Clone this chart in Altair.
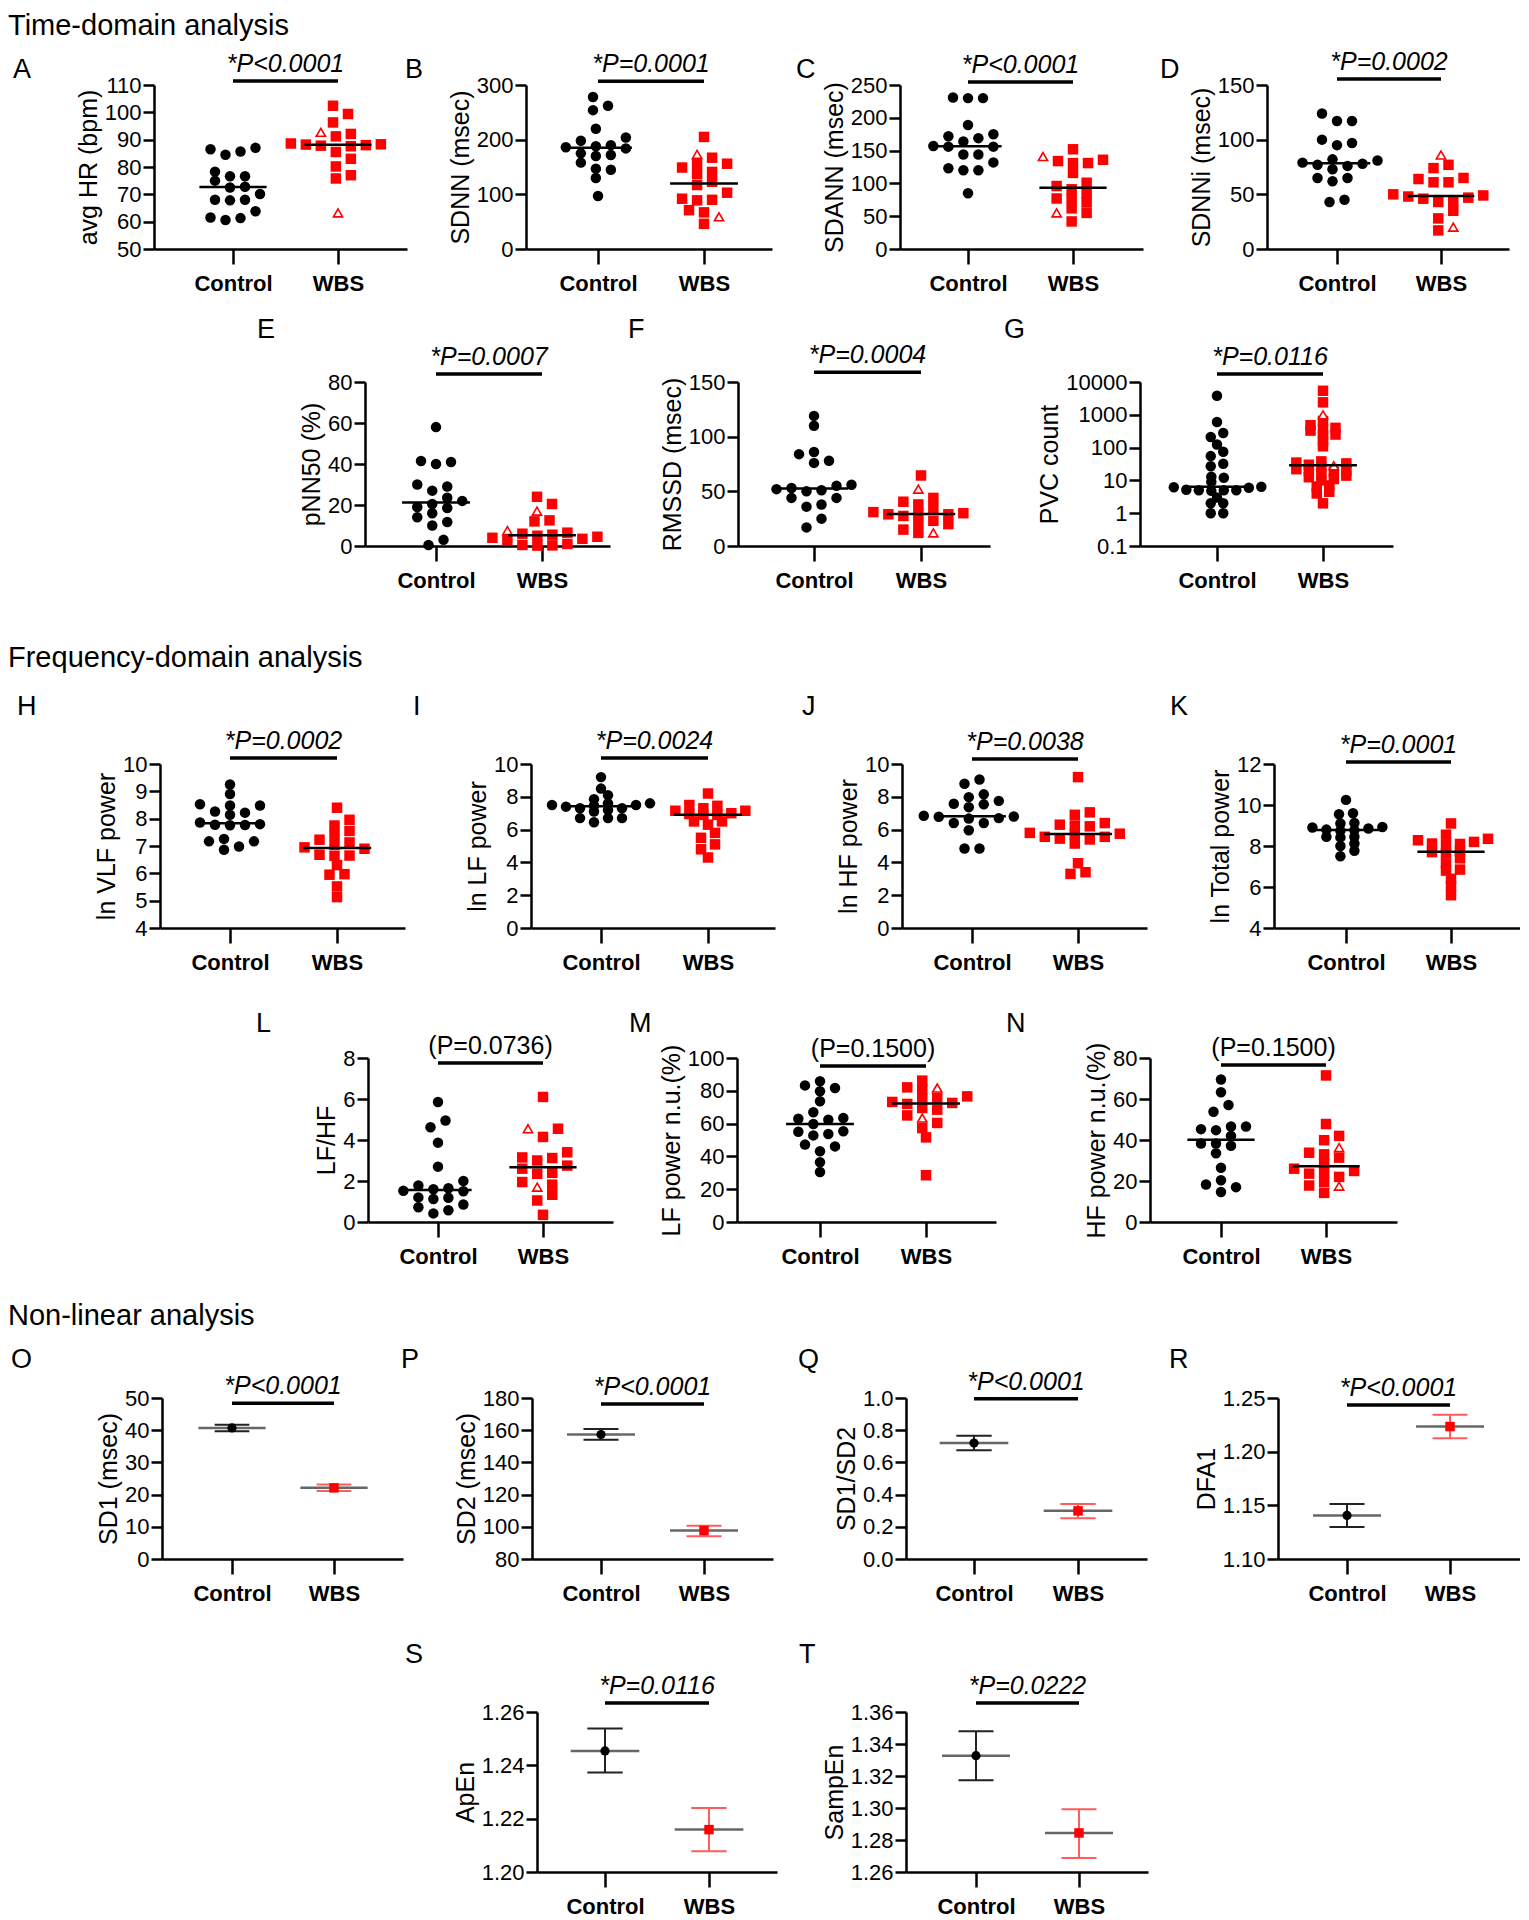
import altair as alt
import numpy as np
import pandas as pd

# ---------------------------------------------------------------- data
GROUPS = ["Control", "WBS"]

A_ctrl = [87.0, 86.5, 85.7, 84.5, 78.3, 76.6, 76.6, 75.0, 72.8, 72.5, 70.1, 68.0, 68.0, 67.8, 63.8, 61.5, 61.3, 60.6]
A_wbs = [102.4, 99.4, 96.3, 92.1, 91.2, 88.6, 88.3, 88.0, 87.8, 87.6, 88.2, 85.5, 83.0, 80.2, 77.0, 75.8]
A_wbs_open = [92.7, 63.2]

B_ctrl = [278, 262, 254, 220, 204, 198, 190, 188, 186, 184, 175, 172, 170, 158, 147, 145, 130, 97]
B_wbs = [205, 167, 156, 155, 149, 141, 137, 123, 117, 103, 92, 90, 89, 71, 67, 46]
B_wbs_open = [173, 59]

C_ctrl = [231, 230, 230, 189, 175, 172, 169, 164, 157, 156, 156, 144, 144, 132, 123, 120, 120, 85]
C_wbs = [152, 136, 134, 131, 131, 116, 101, 96, 91, 85, 77, 77, 71, 62, 55, 42]
C_wbs_open = [141, 55]

D_ctrl = [124, 117, 117, 100, 97, 95, 82, 81, 79, 78, 77, 76, 73, 65, 65, 62, 45, 43]
D_wbs = [77, 74, 65, 64, 61, 61, 50, 49, 48, 47, 46, 44, 43, 35, 28, 17]
D_wbs_open = [86, 20]

E_ctrl = [58, 41.5, 41, 40, 30, 29, 27, 23.5, 22, 20.5, 19, 18.5, 16, 14, 11.7, 10, 3, 0.5]
E_wbs = [24, 20.5, 12.5, 12, 6.5, 6, 5.5, 5, 4.5, 4, 3.5, 3, 1, 0.5, 0.3, 0.2]
E_wbs_open = [17, 7.5]

F_ctrl = [119, 110, 86, 84, 78, 76, 56, 55, 53, 52, 51, 50, 44, 44, 38, 36, 25, 17]
F_wbs = [64.5, 44, 40.5, 38, 35, 31, 30, 29.5, 29, 29, 27.5, 23, 21, 20, 15, 12]
F_wbs_open = [52, 12]

G_ctrl = [3800, 600, 280, 210, 125, 75, 55, 32, 27, 13, 12, 9, 6.4, 6.2, 6, 5.2, 5, 5, 5, 4.8, 3, 2, 2, 1, 1]
G_wbs = [5400, 2400, 650, 480, 400, 360, 330, 250, 240, 160, 110, 38, 35, 33, 30, 25, 22, 20, 20, 18,
         16, 14, 12.5, 11, 10, 7, 6.5, 4.5, 4, 2]
G_wbs_open = [1000, 28]

H_ctrl = [9.25, 8.9, 8.53, 8.48, 8.48, 8.26, 8.22, 8.14, 7.86, 7.8, 7.78, 7.77, 7.76, 7.26, 7.17, 7.17, 6.98, 6.86]
H_wbs = [8.4, 7.96, 7.75, 7.55, 7.4, 7.23, 7.13, 7.04, 6.95, 6.9, 6.68, 6.65, 6.64, 6.3, 5.97, 5.95, 5.52, 5.13]
H_wbs_open = []

I_ctrl = [9.2, 8.5, 8.1, 7.85, 7.6, 7.6, 7.5, 7.5, 7.45, 7.4, 7.3, 7.3, 7.2, 7.1, 6.7, 6.7, 6.7, 6.45]
I_wbs = [8.2, 7.5, 7.45, 7.3, 7.15, 7.15, 7.0, 6.95, 6.9, 6.9, 6.5, 6.5, 6.3, 5.8, 5.5, 5.1, 4.8, 4.3]
I_wbs_open = []

J_ctrl = [9.05, 8.8, 8.15, 7.98, 7.75, 7.58, 7.54, 7.37, 6.84, 6.8, 6.78, 6.7, 6.67, 6.4, 6.4, 5.96, 4.85, 4.85]
J_wbs = [9.2, 7.05, 6.9, 6.4, 6.3, 6.25, 6.2, 5.8, 5.75, 5.7, 5.56, 5.56, 5.45, 5.4, 5.15, 3.95, 3.4, 3.3]
J_wbs_open = []

K_ctrl = [10.25, 9.6, 9.55, 9.12, 9.1, 8.93, 8.9, 8.85, 8.8, 8.77, 8.75, 8.45, 8.45, 8.42, 8.12, 8.0, 7.77, 7.5]
K_wbs = [9.1, 8.55, 8.35, 8.28, 8.2, 8.12, 8.1, 8.04, 7.75, 7.7, 7.64, 7.4, 7.15, 6.85, 6.8, 6.4, 6.05, 5.6]
K_wbs_open = []

L_ctrl = [5.85, 4.95, 4.62, 3.87, 2.7, 2.0, 1.78, 1.65, 1.6, 1.52, 1.5, 1.2, 1.18, 1.12, 0.85, 0.72, 0.57, 0.42]
L_wbs = [6.1, 4.55, 4.15, 3.4, 3.15, 3.12, 3.0, 2.75, 2.6, 2.4, 2.35, 1.95, 1.82, 1.33, 1.05, 0.35]
L_wbs_open = [4.55, 1.7]

M_ctrl = [85.8, 83.3, 81.7, 79.7, 73.6, 66.9, 63.4, 63.0, 62.4, 59.8, 55.3, 55.0, 53.7, 52.8, 47.2, 46.1, 43.1, 36.4, 30.5]
M_wbs = [86.2, 82.1, 80.7, 76.6, 75.6, 75.0, 73.2, 72.6, 72.0, 69.5, 68.5, 65.0, 60.4, 57.3, 51.6, 28.5]
M_wbs_open = [81.7, 63.4]

N_ctrl = [69.5, 63.3, 57.1, 53.8, 46.6, 46.6, 45.3, 44.8, 42.0, 38.3, 38.3, 37.2, 33.5, 26.5, 20.4, 18.3, 17.0, 14.6]
N_wbs = [71.5, 47.8, 42.0, 39.9, 33.8, 33.0, 31.4, 28.5, 26.0, 24.9, 24.0, 23.6, 22.0, 19.5, 17.8, 14.2]
N_wbs_open = [36.3, 17.5]

# mean with error-bar ends (Control, WBS)
O_mean = [40.7, 22.1]
O_low = [39.7, 21.1]
O_high = [41.7, 23.1]
P_mean = [157.3, 97.7]
P_low = [154.0, 94.1]
P_high = [160.7, 100.6]
Q_mean = [0.72, 0.299]
Q_low = [0.675, 0.253]
Q_high = [0.766, 0.342]
R_mean = [1.1406, 1.2234]
R_low = [1.1297, 1.2125]
R_high = [1.1513, 1.2344]
S_mean = [1.2454, 1.2159]
S_low = [1.2373, 1.2078]
S_high = [1.2538, 1.2240]
T_mean = [1.3327, 1.2844]
T_low = [1.3173, 1.2688]
T_high = [1.3479, 1.2992]

# ---------------------------------------------------------------- panel specs
SCATTER = {
    "A": dict(ctrl=A_ctrl, wbs=A_wbs, wbs_open=A_wbs_open, ylabel="avg HR (bpm)", domain=[50, 110],
              ticks=[50, 60, 70, 80, 90, 100, 110], fmt="d", bar=111.5, p="*P<0.0001", italic=True),
    "B": dict(ctrl=B_ctrl, wbs=B_wbs, wbs_open=B_wbs_open, ylabel="SDNN (msec)", domain=[0, 300],
              ticks=[0, 100, 200, 300], fmt="d", bar=307, p="*P=0.0001", italic=True),
    "C": dict(ctrl=C_ctrl, wbs=C_wbs, wbs_open=C_wbs_open, ylabel="SDANN (msec)", domain=[0, 250],
              ticks=[0, 50, 100, 150, 200, 250], fmt="d", bar=254.5, p="*P<0.0001", italic=True),
    "D": dict(ctrl=D_ctrl, wbs=D_wbs, wbs_open=D_wbs_open, ylabel="SDNNi (msec)", domain=[0, 150],
              ticks=[0, 50, 100, 150], fmt="d", bar=155.5, p="*P=0.0002", italic=True),
    "E": dict(ctrl=E_ctrl, wbs=E_wbs, wbs_open=E_wbs_open, ylabel="pNN50 (%)", domain=[0, 80],
              ticks=[0, 20, 40, 60, 80], fmt="d", bar=83.9, p="*P=0.0007", italic=True),
    "F": dict(ctrl=F_ctrl, wbs=F_wbs, wbs_open=F_wbs_open, ylabel="RMSSD (msec)", domain=[0, 150],
              ticks=[0, 50, 100, 150], fmt="d", bar=159, p="*P=0.0004", italic=True),
    "G": dict(ctrl=G_ctrl, wbs=G_wbs, wbs_open=G_wbs_open, ylabel="PVC count", domain=[0.1, 10000], log=True,
              ticks=[0.1, 1, 10, 100, 1000, 10000], fmt="~g", bar=17500, p="*P=0.0116", italic=True,
              swarm=(5.0, 12.5)),
    "H": dict(ctrl=H_ctrl, wbs=H_wbs, wbs_open=H_wbs_open, ylabel="ln VLF power", domain=[4, 10],
              ticks=[4, 5, 6, 7, 8, 9, 10], fmt="d", bar=10.22, p="*P=0.0002", italic=True),
    "I": dict(ctrl=I_ctrl, wbs=I_wbs, wbs_open=I_wbs_open, ylabel="ln LF power", domain=[0, 10],
              ticks=[0, 2, 4, 6, 8, 10], fmt="d", bar=10.37, p="*P=0.0024", italic=True,
              swarm=(5.0, 14.0)),
    "J": dict(ctrl=J_ctrl, wbs=J_wbs, wbs_open=J_wbs_open, ylabel="ln HF power", domain=[0, 10],
              ticks=[0, 2, 4, 6, 8, 10], fmt="d", bar=10.3, p="*P=0.0038", italic=True),
    "K": dict(ctrl=K_ctrl, wbs=K_wbs, wbs_open=K_wbs_open, ylabel="ln Total power", domain=[4, 12],
              ticks=[4, 6, 8, 10, 12], fmt="d", bar=12.1, p="*P=0.0001", italic=True,
              swarm=(6.5, 14.0)),
    "L": dict(ctrl=L_ctrl, wbs=L_wbs, wbs_open=L_wbs_open, ylabel="LF/HF", domain=[0, 8],
              ticks=[0, 2, 4, 6, 8], fmt="d", bar=7.76, p="(P=0.0736)", italic=False),
    "M": dict(ctrl=M_ctrl, wbs=M_wbs, wbs_open=M_wbs_open, ylabel="LF power n.u.(%)", domain=[0, 100],
              ticks=[0, 20, 40, 60, 80, 100], fmt="d", bar=95.1, p="(P=0.1500)", italic=False),
    "N": dict(ctrl=N_ctrl, wbs=N_wbs, wbs_open=N_wbs_open, ylabel="HF power n.u.(%)", domain=[0, 80],
              ticks=[0, 20, 40, 60, 80], fmt="d", bar=76.6, p="(P=0.1500)", italic=False),
}

ERRORS = {
    "O": dict(mean=O_mean, low=O_low, high=O_high, ylabel="SD1 (msec)", domain=[0, 50],
              ticks=[0, 10, 20, 30, 40, 50], fmt="d", bar=48.4, p="*P<0.0001", italic=True),
    "P": dict(mean=P_mean, low=P_low, high=P_high, ylabel="SD2 (msec)", domain=[80, 180],
              ticks=[80, 100, 120, 140, 160, 180], fmt="d", bar=176.3, p="*P<0.0001", italic=True),
    "Q": dict(mean=Q_mean, low=Q_low, high=Q_high, ylabel="SD1/SD2", domain=[0, 1],
              ticks=[0, 0.2, 0.4, 0.6, 0.8, 1.0], fmt=".1f", bar=0.995, p="*P<0.0001", italic=True),
    "R": dict(mean=R_mean, low=R_low, high=R_high, ylabel="DFA1", domain=[1.10, 1.25],
              ticks=[1.10, 1.15, 1.20, 1.25], fmt=".2f", bar=1.2434, p="*P<0.0001", italic=True),
    "S": dict(mean=S_mean, low=S_low, high=S_high, ylabel="ApEn", domain=[1.20, 1.26],
              ticks=[1.20, 1.22, 1.24, 1.26], fmt=".2f", bar=1.2634, p="*P=0.0116", italic=True),
    "T": dict(mean=T_mean, low=T_low, high=T_high, ylabel="SampEn", domain=[1.26, 1.36],
              ticks=[1.26, 1.28, 1.30, 1.32, 1.34, 1.36], fmt=".2f", bar=1.3656, p="*P=0.0222", italic=True),
}

# ---------------------------------------------------------------- layout (page pixels)
ORIGIN = 8
LETTER_SIZE = 27
HEAD_SIZE = 29
# panel: (key, plot left, plot width, control px, WBS px, letter left)
ROWS = [
    dict(top=85, height=164, band=(8, 305), heading="Time-domain analysis", heading_base=35, letter_base=78,
         panels=[("A", 154, 253, 79, 184, 13), ("B", 526, 246, 72, 178, 405),
                 ("C", 900, 243, 68, 173, 796), ("D", 1267, 242, 70, 174, 1160)]),
    dict(top=382, height=164, band=(305, 620), heading=None, letter_base=338,
         panels=[("E", 365, 245, 71, 177, 257), ("F", 738, 252, 76, 183, 628),
                 ("G", 1140, 253, 77, 183, 1004)]),
    dict(top=764, height=164, band=(620, 993), heading="Frequency-domain analysis", heading_base=667,
         letter_base=715,
         panels=[("H", 160, 245, 70, 177, 17), ("I", 531, 244, 70, 177, 413),
                 ("J", 902, 245, 70, 176, 802), ("K", 1274, 246, 72, 177, 1170)]),
    dict(top=1058, height=164, band=(993, 1287), heading=None, letter_base=1032,
         panels=[("L", 368, 245, 70, 175, 256), ("M", 737, 259, 83, 189, 629),
                 ("N", 1150, 247, 71, 176, 1006)]),
    dict(top=1398, height=161, band=(1287, 1623), heading="Non-linear analysis", heading_base=1325,
         letter_base=1368,
         panels=[("O", 162, 241, 70, 172, 11), ("P", 532, 241, 69, 172, 401),
                 ("Q", 906, 241, 68, 172, 798), ("R", 1278, 242, 69, 172, 1169)]),
    dict(top=1712, height=160, band=(1623, 1912), heading=None, letter_base=1663,
         panels=[("S", 537, 240, 68, 172, 405), ("T", 906, 242, 70, 173, 799)]),
]

FONT = "Liberation Sans, Arial, Helvetica, sans-serif"
RED = "#ff0000"
BLACK = "#000000"


def swarm(px_vals, dy_min=9.0, dx_min=15.0):
    step = dx_min / 2.0
    n = len(px_vals)
    order = sorted(range(n), key=lambda i: px_vals[i])
    cands = [0.0]
    for k in range(1, 40):
        cands += [k * step, -k * step]
    off = [0.0] * n
    placed = []
    for i in order:
        y = px_vals[i]
        chosen = 0.0
        for c in cands:
            if all(not (abs(y - py) < dy_min and abs(c - pc) < dx_min - 1e-9) for py, pc in placed):
                chosen = c
                break
        off[i] = chosen
        placed.append((y, chosen))
    parent = list(range(n))

    def find(a):
        while parent[a] != a:
            parent[a] = parent[parent[a]]
            a = parent[a]
        return a

    for i in range(n):
        for j in range(i + 1, n):
            if abs(px_vals[i] - px_vals[j]) < dy_min:
                parent[find(i)] = find(j)
    comps = {}
    for i in range(n):
        comps.setdefault(find(i), []).append(i)
    for members in comps.values():
        m = sum(off[i] for i in members) / len(members)
        for i in members:
            off[i] -= m
    return off


def make_axes(s, width, cpx, wpx):
    u = float(wpx - cpx)
    xdom = [-cpx / u, (width - cpx) / u]
    X = alt.X("x:Q", scale=alt.Scale(domain=xdom, nice=False, zero=False),
              axis=alt.Axis(values=[0, 1], title=None,
                            labelExpr=f"datum.value == 0 ? '{GROUPS[0]}' : '{GROUPS[1]}'"))
    if s.get("log"):
        ysc = alt.Scale(type="log", domain=s["domain"], nice=False)
    else:
        ysc = alt.Scale(domain=s["domain"], nice=False, zero=False)
    Y = alt.Y("y:Q", scale=ysc, axis=alt.Axis(values=s["ticks"], format=s["fmt"], title=s["ylabel"]))
    return X, Y, u


def sig_layers(s, X, Y):
    bar = pd.DataFrame({"x": [0.0], "x2": [1.0], "y": [s["bar"]]})
    txt = pd.DataFrame({"x": [0.5], "y": [s["bar"]], "t": [s["p"]]})
    l1 = alt.Chart(bar).mark_rule(color=BLACK, strokeWidth=3.5).encode(x=X, x2="x2:Q", y=Y)
    l2 = alt.Chart(txt).mark_text(font=FONT, fontSize=25, fontStyle="italic" if s["italic"] else "normal",
                                  baseline="bottom", dy=-4, color=BLACK).encode(x=X, y=Y, text="t:N")
    return [l1, l2]


def scatter_panel(key, width, H, cpx, wpx):
    s = SCATTER[key]
    X, Y, u = make_axes(s, width, cpx, wpx)
    d0, d1 = s["domain"]
    if s.get("log"):
        f = lambda v: (np.log10(v) - np.log10(d0)) / (np.log10(d1) - np.log10(d0)) * H
    else:
        f = lambda v: (v - d0) / (d1 - d0) * H
    dyv, dxv = s.get("swarm", (9.0, 15.0))
    recs = []
    co = swarm([f(v) for v in s["ctrl"]], dyv, dxv)
    for v, o in zip(s["ctrl"], co):
        recs.append({"x": o / u, "y": v, "k": "c"})
    wall = list(s["wbs"]) + list(s["wbs_open"])
    wo = swarm([f(v) for v in wall], dyv, dxv)
    for i, (v, o) in enumerate(zip(wall, wo)):
        recs.append({"x": 1 + o / u, "y": v, "k": "s" if i < len(s["wbs"]) else "t"})
    pts = pd.DataFrame(recs)
    med = pd.DataFrame({"x": [-0.32, 0.68], "x2": [0.32, 1.32],
                        "y": [float(np.median(s["ctrl"])), float(np.median(wall))]})
    base = alt.Chart(pts)
    layers = [
        base.transform_filter("datum.k == 'c'").mark_point(shape="circle", filled=True, size=110,
                                                           color=BLACK, opacity=1).encode(x=X, y=Y),
        base.transform_filter("datum.k == 's'").mark_point(shape="square", filled=True, size=110,
                                                           color=RED, opacity=1).encode(x=X, y=Y),
    ]
    if len(s["wbs_open"]):
        layers.append(base.transform_filter("datum.k == 't'").mark_point(
            shape="triangle-up", filled=False, fill="white", fillOpacity=1, stroke=RED, strokeWidth=1.6,
            size=85, opacity=1).encode(x=X, y=Y))
    layers.append(alt.Chart(med).mark_rule(color=BLACK, strokeWidth=2.5).encode(x=X, x2="x2:Q", y=Y))
    layers += sig_layers(s, X, Y)
    return alt.layer(*layers).properties(width=width, height=H)


def error_panel(key, width, H, cpx, wpx):
    s = ERRORS[key]
    X, Y, u = make_axes(s, width, cpx, wpx)
    g = ["c", "w"]
    vert = pd.DataFrame({"x": [0.0, 1.0], "y": s["low"], "y2": s["high"], "g": g})
    caps = pd.DataFrame({"x": [-0.17, 0.83, -0.17, 0.83], "x2": [0.17, 1.17, 0.17, 1.17],
                         "y": list(s["low"]) + list(s["high"]), "g": g + g})
    mean = pd.DataFrame({"x": [-0.33, 0.67], "x2": [0.33, 1.33], "y": s["mean"]})
    pts = pd.DataFrame({"x": [0.0, 1.0], "y": s["mean"], "g": g})
    C = alt.Color("g:N", scale=alt.Scale(domain=g, range=["#222222", "#ff5c5c"]), legend=None)
    layers = [
        alt.Chart(vert).mark_rule(strokeWidth=2).encode(x=X, y=Y, y2="y2:Q", color=C),
        alt.Chart(caps).mark_rule(strokeWidth=2).encode(x=X, x2="x2:Q", y=Y, color=C),
        alt.Chart(mean).mark_rule(strokeWidth=2.5, color="#666666").encode(x=X, x2="x2:Q", y=Y),
        alt.Chart(pts).transform_filter("datum.g == 'c'").mark_point(shape="circle", filled=True, size=85,
                                                                     color=BLACK, opacity=1).encode(x=X, y=Y),
        alt.Chart(pts).transform_filter("datum.g == 'w'").mark_point(shape="square", filled=True, size=90,
                                                                     color=RED, opacity=1).encode(x=X, y=Y),
    ]
    layers += sig_layers(s, X, Y)
    return alt.layer(*layers).properties(width=width, height=H)


SP_DF = pd.DataFrame({"z": [0]})


def spacer(w, h, title=None):
    ch = alt.Chart(SP_DF).mark_point(size=0, opacity=0).encode(x=alt.value(0), y=alt.value(0))
    if title is not None:
        return ch.properties(width=w, height=h, title=title)
    return ch.properties(width=w, height=h)


def band_spacer(h, y1, y2, title=None):
    ch = alt.Chart(SP_DF).mark_rule(opacity=0).encode(x=alt.value(0), y=alt.value(y1), y2=alt.value(y2))
    if title is not None:
        return ch.properties(width=1, height=h, title=title)
    return ch.properties(width=1, height=h)


def letter_title(letter, dx, offset):
    return alt.TitleParams(text=letter, anchor="start", frame="group", orient="top", dx=dx, offset=offset,
                           baseline="alphabetic", font=FONT, fontSize=LETTER_SIZE, fontWeight="normal",
                           color=BLACK)


rows = []
for row in ROWS:
    top, H = row["top"], row["height"]
    b0, b1 = row["band"]
    head = None
    if row.get("heading"):
        head = alt.TitleParams(text=row["heading"], anchor="start", frame="group", orient="top",
                               offset=b0 - row["heading_base"] - HEAD_SIZE, baseline="alphabetic", font=FONT,
                               fontSize=HEAD_SIZE, fontWeight="normal", color=BLACK)
    cells = [band_spacer(H, b0 - top, b1 - top, head)]
    cursor = ORIGIN + 1
    for (key, left, width, cpx, wpx, lx) in row["panels"]:
        lt = letter_title(key, lx - cursor, top - row["letter_base"] - LETTER_SIZE)
        cells.append(spacer(left - cursor, H, lt))
        if key in SCATTER:
            cells.append(scatter_panel(key, width, H, cpx, wpx))
        else:
            cells.append(error_panel(key, width, H, cpx, wpx))
        cursor = left + width
    rows.append(alt.hconcat(*cells, spacing=0, bounds="flush"))

chart = alt.vconcat(*rows, spacing=0).properties(padding=0).configure_view(stroke=None).configure_axis(
    domainColor=BLACK, domainWidth=2.5, tickColor=BLACK, tickWidth=2.5, tickSize=11,
    labelFont=FONT, labelFontSize=22, labelColor=BLACK, labelPadding=2,
    titleFont=FONT, titleFontSize=25, titleFontWeight="normal", titleColor=BLACK, titlePadding=3,
    grid=False, labelOverlap=False, labelFlush=False
).configure_axisX(tickSize=15, labelFontWeight="bold", labelPadding=9)

chart.save("out.html", embed_options={"renderer": "svg", "actions": False})
